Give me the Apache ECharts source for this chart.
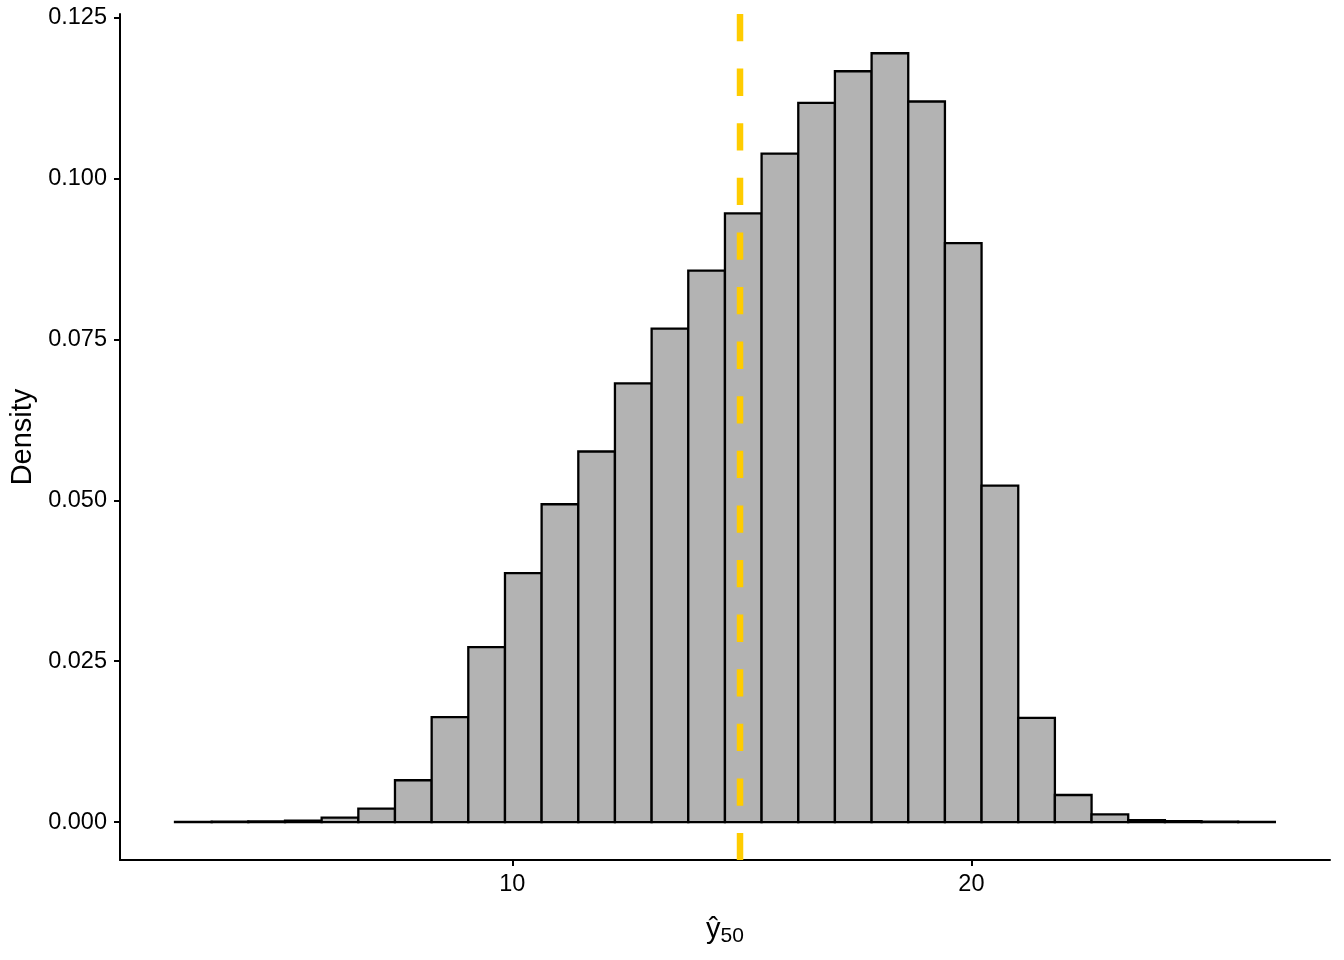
<!DOCTYPE html>
<html>
<head>
<meta charset="utf-8">
<script src="https://cdn.jsdelivr.net/npm/echarts@6/dist/echarts.min.js"></script>
<style>
html,body{margin:0;padding:0;background:#fff;}
#chart{width:1344px;height:960px;}
</style>
</head>
<body>
<div id="chart"></div>
<script>
// Histogram bin edges (x values, 30 bins)
const binEdges = [2.654, 3.453, 4.251, 5.050, 5.848, 6.647, 7.445, 8.244, 9.042, 9.841,
  10.639, 11.438, 12.236, 13.035, 13.833, 14.632, 15.430, 16.229, 17.027, 17.826,
  18.624, 19.423, 20.221, 21.020, 21.818, 22.617, 23.415, 24.214, 25.012, 25.811, 26.609];
// Density per bin
const densities = [0.00003, 0.00005, 0.0001, 0.0002, 0.0007, 0.0021, 0.0065, 0.0163, 0.0272, 0.0387,
  0.0494, 0.0576, 0.0682, 0.0767, 0.0857, 0.0946, 0.1039, 0.1118, 0.1167, 0.1195,
  0.1120, 0.0900, 0.0523, 0.0162, 0.0042, 0.0012, 0.0003, 0.00015, 0.00008, 0.00003];
// Vertical reference line (mean)
const refLineX = 14.96;
// Tick values
const xTicks = [10, 20];
const yTicks = [0, 0.025, 0.05, 0.075, 0.1, 0.125];
const xRange = [1.456, 27.81];
const yRange = [-0.0059, 0.1256];

const font = "'Liberation Sans', Arial, Helvetica, sans-serif";
const histData = densities.map((d, i) => [binEdges[i], binEdges[i + 1], d]);

const chart = echarts.init(document.getElementById('chart'), null, {renderer: 'canvas'});
chart.setOption({
  animation: false,
  backgroundColor: '#ffffff',
  grid: {left: 120, right: 14, top: 14, bottom: 100, containLabel: false, outerBoundsMode: 'none'},
  xAxis: {
    type: 'value',
    min: xRange[0], max: xRange[1],
    splitLine: {show: false},
    axisLine: {show: true, onZero: false, lineStyle: {color: '#000', width: 2}},
    axisTick: {show: true, length: 6, customValues: xTicks, lineStyle: {color: '#000', width: 2}},
    axisLabel: {customValues: xTicks, fontSize: 23.5, color: '#000', fontFamily: font, margin: 13},
    name: '{y|ŷ}{s|50}',
    nameLocation: 'middle',
    nameGap: 52,
    nameTextStyle: {
      fontFamily: font,
      color: '#000',
      rich: {
        y: {fontSize: 29, fontFamily: font, color: '#000'},
        s: {fontSize: 21, fontFamily: font, color: '#000', padding: [14, 0, 0, 0]}
      }
    }
  },
  yAxis: {
    type: 'value',
    min: yRange[0], max: yRange[1],
    splitLine: {show: false},
    axisLine: {show: true, onZero: false, lineStyle: {color: '#000', width: 2}},
    axisTick: {show: true, length: 6, customValues: yTicks, lineStyle: {color: '#000', width: 2}},
    axisLabel: {customValues: yTicks, fontSize: 23.5, color: '#000', fontFamily: font, margin: 13,
      formatter: v => v.toFixed(3)},
    name: 'Density',
    nameLocation: 'middle',
    nameGap: 80,
    nameRotate: 90,
    nameTextStyle: {fontSize: 29, fontFamily: font, color: '#000'}
  },
  series: [
    {
      type: 'custom',
      data: histData,
      encode: {x: [0, 1], y: 2},
      z: 2,
      renderItem: function (params, api) {
        const p0 = api.coord([api.value(0), api.value(2)]);
        const p1 = api.coord([api.value(1), 0]);
        return {
          type: 'rect',
          shape: {x: p0[0], y: p0[1], width: p1[0] - p0[0], height: p1[1] - p0[1]},
          style: {fill: '#B3B3B3', stroke: '#000', lineWidth: 2.3}
        };
      }
    },
    {
      type: 'line',
      data: [[refLineX, yRange[1]], [refLineX, yRange[0]]],
      symbol: 'none',
      z: 5,
      lineStyle: {color: '#FFCC00', width: 6.5, type: [27.3, 27.3]}
    }
  ]
});
</script>
</body>
</html>
